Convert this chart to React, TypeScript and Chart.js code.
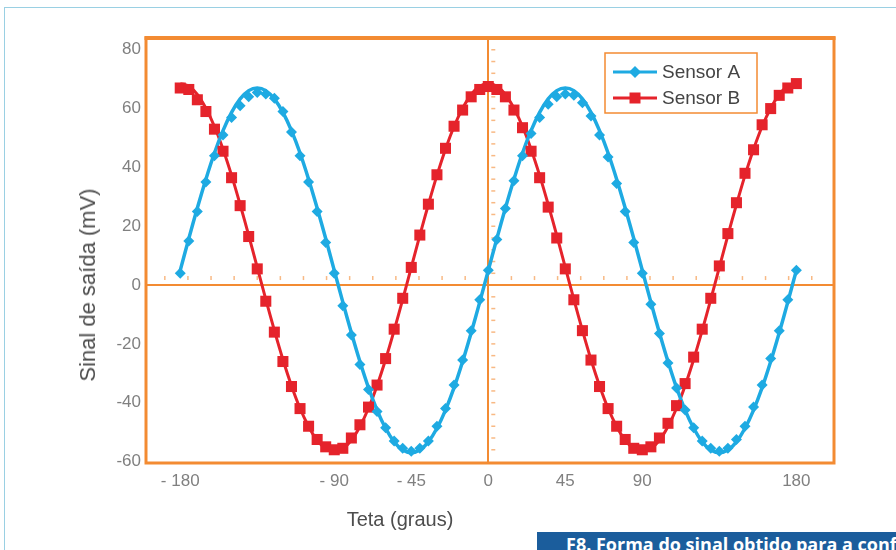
import React, { useEffect, useRef } from "react";
import { Chart, registerables } from "chart.js";

Chart.register(...registerables);

// ---------- data ----------
const theta = [
  -180, -175, -170, -165, -160, -155, -150, -145, -140, -135, -130, -125, -120,
  -115, -110, -105, -100, -95, -90, -85, -80, -75, -70, -65, -60, -55, -50, -45,
  -40, -35, -30, -25, -20, -15, -10, -5, 0, 5, 10, 15, 20, 25, 30, 35, 40, 45,
  50, 55, 60, 65, 70, 75, 80, 85, 90, 95, 100, 105, 110, 115, 120, 125, 130, 135,
  140, 145, 150, 155, 160, 165, 170, 175, 180,
];

// measured points (markers)
const sensorA = [
  4, 15, 25, 35, 44, 51, 57, 61, 64, 65.5, 65, 63.5, 59, 52, 44, 35, 25, 14.5,
  4, -7, -17, -27, -35.5, -43, -48.5, -53, -55.5, -56.5, -55.5, -53, -48, -42,
  -34, -25.5, -15.5, -5, 5, 15.5, 26, 35.5, 44, 51.5, 57, 61.5, 64, 65, 64.5,
  62, 57.5, 51, 43.5, 34.5, 25, 14.5, 4, -6.5, -16.5, -26.5, -35, -42.5, -48.5,
  -53, -55.5, -56.5, -55.5, -52.5, -48, -41.5, -34, -25, -15.5, -5, 5,
];
const sensorB = [
  67, 66.5, 63, 59, 53, 45.5, 36.5, 27, 16.5, 5.5, -5.5, -16, -26, -34.5, -42,
  -48, -52.5, -55, -56, -55.5, -52, -47.5, -41.5, -34, -25, -15, -4.5, 6, 17,
  27.5, 37.5, 46.5, 54, 59.5, 64, 66.5, 67.5, 66.5, 64, 59.5, 53.5, 45.5, 36.5,
  26.5, 16, 5.5, -5, -15.5, -25.5, -34.5, -42, -48, -52.5, -55.5, -56, -55, -52,
  -47, -41, -33.5, -24.5, -15, -4.5, 6.5, 17.5, 28, 38, 46, 54.5, 60, 64.5, 67,
  68.5,
];

// fitted curves (solid lines)
const fitA = [
  5, 15.8, 26.2, 36, 44.9, 52.5, 58.7, 63.3, 66.1, 67, 66.1, 63.3, 58.7, 52.5,
  44.9, 36, 26.2, 15.8, 5, -5.8, -16.2, -26, -34.9, -42.5, -48.7, -53.3, -56.1,
  -57, -56.1, -53.3, -48.7, -42.5, -34.9, -26, -16.2, -5.8, 5, 15.8, 26.2, 36,
  44.9, 52.5, 58.7, 63.3, 66.1, 67, 66.1, 63.3, 58.7, 52.5, 44.9, 36, 26.2, 15.8,
  5, -5.8, -16.2, -26, -34.9, -42.5, -48.7, -53.3, -56.1, -57, -56.1, -53.3,
  -48.7, -42.5, -34.9, -26, -16.2, -5.8, 5,
];
const fitB = [
  68.5, 67.6, 64.8, 60.1, 53.9, 46.2, 37.3, 27.4, 16.9, 6, -4.9, -15.4, -25.3,
  -34.2, -41.9, -48.1, -52.8, -55.6, -56.5, -55.6, -52.8, -48.1, -41.9, -34.2,
  -25.3, -15.4, -4.9, 6, 16.9, 27.4, 37.3, 46.2, 53.9, 60.1, 64.8, 67.6, 68.5,
  67.6, 64.8, 60.1, 53.9, 46.2, 37.3, 27.4, 16.9, 6, -4.9, -15.4, -25.3, -34.2,
  -41.9, -48.1, -52.8, -55.6, -56.5, -55.6, -52.8, -48.1, -41.9, -34.2, -25.3,
  -15.4, -4.9, 6, 16.9, 27.4, 37.3, 46.2, 53.9, 60.1, 64.8, 67.6, 68.5,
];

const seriesNames = ["Sensor A", "Sensor B"];

const xTickValues = [-180, -90, -45, 0, 45, 90, 180];
const xTickLabels = ["- 180", "- 90", "- 45", "0", "45", "90", "180"];
const yTickValues = [-60, -40, -20, 0, 20, 40, 60, 80];
const yTickLabels = ["-60", "-40", "-20", "0", "20", "40", "60", "80"];

const xMinorTicks = [
  -189, -175.5, -162, -148.5, -135, -121.5, -108, -94.5, -81, -67.5, -54, -40.5,
  -27, -13.5, 13.5, 27, 40.5, 54, 67.5, 81, 94.5, 108, 121.5, 135, 148.5, 162,
  175.5, 189,
];
const yMinorTicks = [
  -56, -52, -48, -44, -40, -36, -32, -28, -24, -20, -16, -12, -8, -4, 4, 8, 12,
  16, 20, 24, 28, 32, 36, 40, 44, 48, 52, 56, 60, 64, 68, 72, 76, 80,
];

// ---------- styles ----------
const BLUE = "#1eaae2";
const RED = "#e5232b";
const ORANGE = "#f38b32";
const FONT = '"Liberation Sans", Arial, Helvetica, sans-serif';

const pts = (ys: number[]) => theta.map((t, i) => ({ x: t, y: ys[i] }));

const minorTickPlugin = {
  id: "minorTicks",
  beforeDatasetsDraw(chart: any) {
    const { ctx, scales } = chart;
    const xs = scales.x;
    const ys = scales.y;
    const y0 = ys.getPixelForValue(0);
    const x0 = xs.getPixelForValue(0);
    ctx.save();
    ctx.strokeStyle = "rgba(243,139,50,0.6)";
    ctx.lineWidth = 1.5;
    xMinorTicks.forEach((v) => {
      const px = xs.getPixelForValue(v);
      ctx.beginPath();
      ctx.moveTo(px, y0 - 5);
      ctx.lineTo(px, y0 - 9);
      ctx.stroke();
    });
    yMinorTicks.forEach((v) => {
      const py = ys.getPixelForValue(v);
      ctx.beginPath();
      ctx.moveTo(x0 + 3, py);
      ctx.lineTo(x0 + 7, py);
      ctx.stroke();
    });
    ctx.restore();
  },
};

const framePlugin = {
  id: "frame",
  afterDraw(chart: any) {
    const { ctx, chartArea: a } = chart;
    ctx.save();
    ctx.strokeStyle = ORANGE;
    ctx.lineWidth = 3;
    ctx.strokeRect(a.left, a.top, a.right - a.left, a.bottom - a.top);
    ctx.lineWidth = 4;
    ctx.beginPath();
    ctx.moveTo(a.left - 1.5, a.top);
    ctx.lineTo(a.right + 1.5, a.top);
    ctx.stroke();
    ctx.restore();
  },
};

const legendPlugin = {
  id: "boxLegend",
  afterDraw(chart: any) {
    const { ctx, chartArea: a } = chart;
    const w = 152;
    const h = 60;
    const x0 = a.right - 229;
    const y0 = a.top + 15;
    ctx.save();
    ctx.fillStyle = "#ffffff";
    ctx.fillRect(x0, y0, w, h);
    ctx.strokeStyle = ORANGE;
    ctx.lineWidth = 1.5;
    ctx.strokeRect(x0, y0, w, h);
    const entries = [
      { label: seriesNames[0], color: BLUE, shape: "diamond" },
      { label: seriesNames[1], color: RED, shape: "square" },
    ];
    entries.forEach((e, i) => {
      const cy = y0 + 19 + i * 26;
      ctx.strokeStyle = e.color;
      ctx.lineWidth = 3;
      ctx.beginPath();
      ctx.moveTo(x0 + 8, cy);
      ctx.lineTo(x0 + 52, cy);
      ctx.stroke();
      ctx.fillStyle = e.color;
      const cx = x0 + 30;
      ctx.beginPath();
      if (e.shape === "diamond") {
        ctx.moveTo(cx, cy - 6);
        ctx.lineTo(cx + 6, cy);
        ctx.lineTo(cx, cy + 6);
        ctx.lineTo(cx - 6, cy);
        ctx.closePath();
      } else {
        ctx.rect(cx - 5.5, cy - 5.5, 11, 11);
      }
      ctx.fill();
      ctx.fillStyle = "#444444";
      ctx.font = `19px ${FONT}`;
      ctx.textBaseline = "middle";
      ctx.textAlign = "left";
      ctx.fillText(e.label, x0 + 57, cy + 1);
    });
    ctx.restore();
  },
};

const zeroGrid = (c: any) =>
  c.tick && c.tick.value === 0 ? ORANGE : "rgba(0,0,0,0)";

export default function App() {
  const ref = useRef<HTMLCanvasElement>(null);

  useEffect(() => {
    if (!ref.current) return;
    const chart = new Chart(ref.current, {
      type: "line",
      data: {
        datasets: [
          {
            label: seriesNames[0] + " pontos",
            data: pts(sensorA),
            showLine: false,
            pointStyle: "rectRot",
            pointRadius: 5.5,
            pointBackgroundColor: BLUE,
            pointBorderWidth: 0,
            borderColor: BLUE,
          },
          {
            label: seriesNames[1] + " pontos",
            data: pts(sensorB),
            showLine: false,
            pointStyle: "rect",
            pointRadius: 7.8,
            pointBackgroundColor: RED,
            pointBorderWidth: 0,
            borderColor: RED,
          },
          {
            label: seriesNames[0],
            data: pts(fitA),
            borderColor: BLUE,
            borderWidth: 3.5,
            pointRadius: 0,
            tension: 0.3,
          },
          {
            label: seriesNames[1],
            data: pts(fitB),
            borderColor: RED,
            borderWidth: 3,
            pointRadius: 0,
            tension: 0.3,
          },
        ],
      },
      options: {
        animation: false,
        responsive: false,
        devicePixelRatio: 1,
        layout: { padding: { top: 38, right: 62, left: 0, bottom: 0 } },
        plugins: { legend: { display: false }, tooltip: { enabled: false } },
        scales: {
          x: {
            type: "linear",
            min: -200,
            max: 202,
            afterBuildTicks: (s: any) => {
              s.ticks = xTickValues.map((v) => ({ value: v }));
            },
            afterFit: (s: any) => {
              s.height = 87;
            },
            grid: { color: zeroGrid, lineWidth: 2, drawTicks: false },
            border: { display: false },
            ticks: {
              autoSkip: false,
              maxRotation: 0,
              padding: 8,
              color: "#808080",
              font: { family: FONT, size: 17 },
              callback: (v: any) => {
                const i = xTickValues.indexOf(Number(v));
                return i >= 0 ? xTickLabels[i] : "";
              },
            },
          },
          y: {
            type: "linear",
            min: -60.5,
            max: 84,
            afterBuildTicks: (s: any) => {
              s.ticks = yTickValues.map((v) => ({ value: v }));
            },
            afterFit: (s: any) => {
              s.width = 146;
            },
            grid: { color: zeroGrid, lineWidth: 2, drawTicks: false },
            border: { display: false },
            ticks: {
              padding: 5,
              color: "#808080",
              font: { family: FONT, size: 17 },
              callback: (v: any) => {
                const i = yTickValues.indexOf(Number(v));
                return i >= 0 ? yTickLabels[i] : "";
              },
            },
          },
        },
      },
      plugins: [minorTickPlugin, framePlugin, legendPlugin],
    } as any);
    return () => chart.destroy();
  }, []);

  return (
    <div
      style={{
        position: "absolute",
        left: 0,
        top: 0,
        width: 896,
        height: 550,
        overflow: "hidden",
        background: "#ffffff",
      }}
    >
      <div
        style={{
          position: "absolute",
          left: 4,
          top: 7,
          width: 1000,
          height: 1000,
          border: "1.5px solid #9ad0e3",
        }}
      />
      <canvas
        ref={ref}
        width={896}
        height={550}
        style={{ position: "absolute", left: 0, top: 0 }}
      />
      <div
        style={{
          position: "absolute",
          left: 88,
          top: 285,
          transform: "translate(-50%, -50%) rotate(-90deg)",
          whiteSpace: "nowrap",
          fontFamily: FONT,
          fontSize: 22,
          color: "#4d4d4d",
        }}
      >
        Sinal de saída (mV)
      </div>
      <div
        style={{
          position: "absolute",
          left: 400,
          top: 519,
          transform: "translate(-50%, -50%)",
          whiteSpace: "nowrap",
          fontFamily: FONT,
          fontSize: 20,
          color: "#4d4d4d",
        }}
      >
        Teta (graus)
      </div>
      <div
        style={{
          position: "absolute",
          left: 537,
          top: 532,
          width: 400,
          height: 30,
          background: "#1b5d9c",
          color: "#ffffff",
          fontFamily: '"Open Sans", "Noto Sans", sans-serif',
          fontWeight: 700,
          fontSize: 18,
          lineHeight: "22px",
          paddingLeft: 29,
          paddingTop: 1,
          whiteSpace: "nowrap",
          boxSizing: "border-box",
        }}
      >
        F8. Forma do sinal obtido para a configuração
      </div>
    </div>
  );
}
